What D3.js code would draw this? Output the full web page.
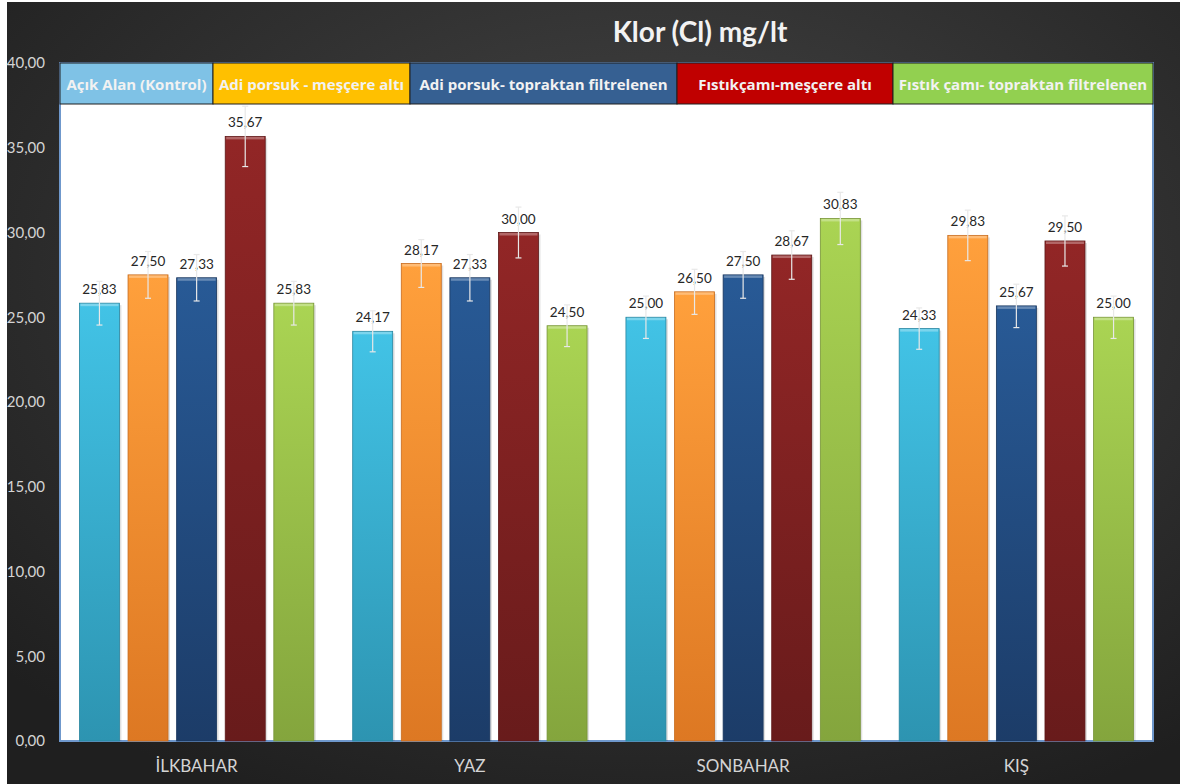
<!DOCTYPE html>
<html>
<head>
<meta charset="utf-8">
<script src="https://cdn.jsdelivr.net/npm/d3@7"></script>
<style>
  html, body { margin: 0; padding: 0; background: #fff; }
  svg { display: block; }
</style>
</head>
<body>
<svg id="chart" width="1180" height="784"></svg>
<script>
// data
var categories = ["İLKBAHAR", "YAZ", "SONBAHAR", "KIŞ"];
var seriesNames = [
	"Açık Alan (Kontrol)",
	"Adi porsuk - meşçere altı",
	"Adi porsuk- topraktan filtrelenen",
	"Fıstıkçamı-meşçere altı",
	"Fıstık çamı- topraktan filtrelenen"
];
var acikAlan   = [25.83, 24.17, 25.00, 24.33];
var porsukAlt  = [27.50, 28.17, 26.50, 29.83];
var porsukTop  = [27.33, 27.33, 27.50, 25.67];
var fistikAlt  = [35.67, 30.00, 28.67, 29.50];
var fistikTop  = [25.83, 24.50, 30.83, 25.00];
// error bar half-lengths (estimated)
var errAcik      = [1.29, 1.21, 1.25, 1.22];
var errPorsukAlt = [1.38, 1.41, 1.33, 1.49];
var errPorsukTop = [1.37, 1.37, 1.38, 1.28];
var errFistikAlt = [1.78, 1.50, 1.43, 1.48];
var errFistikTop = [1.29, 1.23, 1.54, 1.25];
var yTicks = [0, 5, 10, 15, 20, 25, 30, 35, 40];

var seriesValues = [acikAlan, porsukAlt, porsukTop, fistikAlt, fistikTop];
var seriesErrors = [errAcik, errPorsukAlt, errPorsukTop, errFistikAlt, errFistikTop];

// styles
var barTop    = ["#42c3e6", "#ffa03c", "#285a96", "#922626", "#aad453"];
var barBottom = ["#2d94b1", "#dd7823", "#1c3c68", "#681b1b", "#84a53d"];
var legendFill = ["#7fc2e6", "#ffc000", "#366092", "#c00000", "#92d050"];
var legendEdges = [60, 213, 410, 677, 893, 1153];

var svg = d3.select("#chart"),
	width = +svg.attr("width"),
	height = +svg.attr("height");

var plotLeft = 60, plotRight = 1153, plotTop = 63, plotBottom = 741, legendH = 41;

var fmt = d3.formatLocale({decimal: ",", thousands: ".", grouping: [3], currency: ["", ""]}).format(".2f");

var defs = svg.append("defs");
var bg = defs.append("radialGradient").attr("id", "bg")
	.attr("cx", "0.55").attr("cy", "0.35").attr("r", "0.75");
bg.append("stop").attr("offset", "0").attr("stop-color", "#474747");
bg.append("stop").attr("offset", "1").attr("stop-color", "#1f1f1f");

seriesNames.forEach(function(s, i) {
	var gr = defs.append("linearGradient").attr("id", "bar" + i)
		.attr("x1", 0).attr("y1", 0).attr("x2", 0).attr("y2", 1);
	gr.append("stop").attr("offset", "0").attr("stop-color", barTop[i]);
	gr.append("stop").attr("offset", "1").attr("stop-color", barBottom[i]);
});

// background
svg.append("rect")
	.attr("x", 7).attr("y", 2)
	.attr("width", width - 7).attr("height", height - 2)
	.attr("fill", "url(#bg)");

// title
svg.append("text")
	.attr("x", 700).attr("y", 42)
	.attr("text-anchor", "middle")
	.attr("font-family", "Lato, 'Open Sans', sans-serif")
	.attr("font-weight", "bold")
	.attr("font-size", 28)
	.attr("fill", "#f2f2f2")
	.text("Klor (Cl) mg/lt");

// plot area
svg.append("rect")
	.attr("x", plotLeft).attr("y", plotTop)
	.attr("width", plotRight - plotLeft).attr("height", plotBottom - plotTop)
	.attr("fill", "#fff")
	.attr("stroke", "#6f98cc")
	.attr("stroke-width", 2);

var x0 = d3.scaleBand()
	.domain(categories)
	.range([plotLeft, plotRight]);

var x1 = d3.scaleBand()
	.domain(d3.range(seriesNames.length))
	.range([0, x0.bandwidth()])
	.paddingInner(0.177)
	.paddingOuter(0.4);

var y = d3.scaleLinear()
	.domain([0, 40])
	.range([plotBottom, plotTop]);

// y axis
var yAxis = svg.append("g")
	.attr("transform", "translate(" + plotLeft + ",0)")
	.call(d3.axisLeft(y).tickValues(yTicks).tickFormat(fmt).tickSize(0).tickPadding(15));
yAxis.select(".domain").remove();
yAxis.selectAll("text")
	.attr("font-family", "Lato, 'Open Sans', sans-serif")
	.attr("font-size", 15)
	.attr("fill", "#d4d4d4");

// x axis labels
var xAxis = svg.append("g")
	.attr("transform", "translate(0," + plotBottom + ")")
	.call(d3.axisBottom(x0).tickSize(0).tickPadding(19));
xAxis.select(".domain").remove();
xAxis.selectAll("text")
	.attr("font-family", "Lato, 'Open Sans', sans-serif")
	.attr("font-size", 17)
	.attr("fill", "#d4d4d4");

// bars
var rows = [];
categories.forEach(function(c, ci) {
	seriesNames.forEach(function(s, si) {
		rows.push({cat: c, s: si, v: seriesValues[si][ci], e: seriesErrors[si][ci]});
	});
});

var bars = svg.append("g").selectAll("g")
	.data(rows)
	.enter().append("g")
		.attr("transform", function(d) { return "translate(" + (x0(d.cat) + x1(d.s)) + ",0)"; });

bars.append("rect")
	.attr("class", "shadow")
	.attr("x", 2).attr("y", function(d) { return y(d.v) + 2; })
	.attr("width", x1.bandwidth())
	.attr("height", function(d) { return plotBottom - y(d.v) - 2; })
	.attr("fill", "#000").attr("opacity", 0.12);

bars.append("rect")
	.attr("x", 0).attr("y", function(d) { return y(d.v); })
	.attr("width", x1.bandwidth())
	.attr("height", function(d) { return plotBottom - y(d.v); })
	.attr("fill", function(d) { return "url(#bar" + d.s + ")"; })
	.attr("stroke", function(d) { return d3.color(barBottom[d.s]).darker(0.3); })
	.attr("stroke-width", 0.8);

// top bevel highlight
bars.append("rect")
	.attr("x", 1).attr("y", function(d) { return y(d.v) + 0.5; })
	.attr("width", x1.bandwidth() - 2)
	.attr("height", 2.5)
	.attr("fill", "#fff").attr("opacity", 0.3);

// value labels
bars.append("text")
	.attr("x", x1.bandwidth() / 2)
	.attr("y", function(d) { return y(d.v) - 9; })
	.attr("text-anchor", "middle")
	.attr("font-family", "Lato, 'Open Sans', sans-serif")
	.attr("font-size", 13.5)
	.attr("fill", "#262626")
	.text(function(d) { return fmt(d.v); });

// error bars
var eb = bars.append("g")
	.attr("stroke", "#e8e8e8")
	.attr("stroke-width", 1.2);
eb.append("line")
	.attr("x1", x1.bandwidth() / 2).attr("x2", x1.bandwidth() / 2)
	.attr("y1", function(d) { return y(d.v + d.e); })
	.attr("y2", function(d) { return y(d.v - d.e); });
eb.append("line")
	.attr("x1", x1.bandwidth() / 2 - 3).attr("x2", x1.bandwidth() / 2 + 3)
	.attr("y1", function(d) { return y(d.v + d.e); })
	.attr("y2", function(d) { return y(d.v + d.e); });
eb.append("line")
	.attr("x1", x1.bandwidth() / 2 - 3).attr("x2", x1.bandwidth() / 2 + 3)
	.attr("y1", function(d) { return y(d.v - d.e); })
	.attr("y2", function(d) { return y(d.v - d.e); });

// legend across top of plot
var leg = svg.append("g").selectAll("g")
	.data(seriesNames)
	.enter().append("g");
leg.append("rect")
	.attr("x", function(d, i) { return legendEdges[i]; })
	.attr("y", plotTop)
	.attr("width", function(d, i) { return legendEdges[i + 1] - legendEdges[i]; })
	.attr("height", legendH)
	.attr("fill", function(d, i) { return legendFill[i]; })
	.attr("stroke", "#1e1e1e")
	.attr("stroke-width", 1);
leg.append("text")
	.attr("x", function(d, i) { return (legendEdges[i] + legendEdges[i + 1]) / 2; })
	.attr("y", plotTop + 27)
	.attr("text-anchor", "middle")
	.attr("font-family", "'Open Sans', Lato, sans-serif")
	.attr("font-weight", "bold")
	.attr("font-size", 15)
	.attr("fill", "#f2f2f2")
	.text(function(d) { return d; });
</script>
</body>
</html>
